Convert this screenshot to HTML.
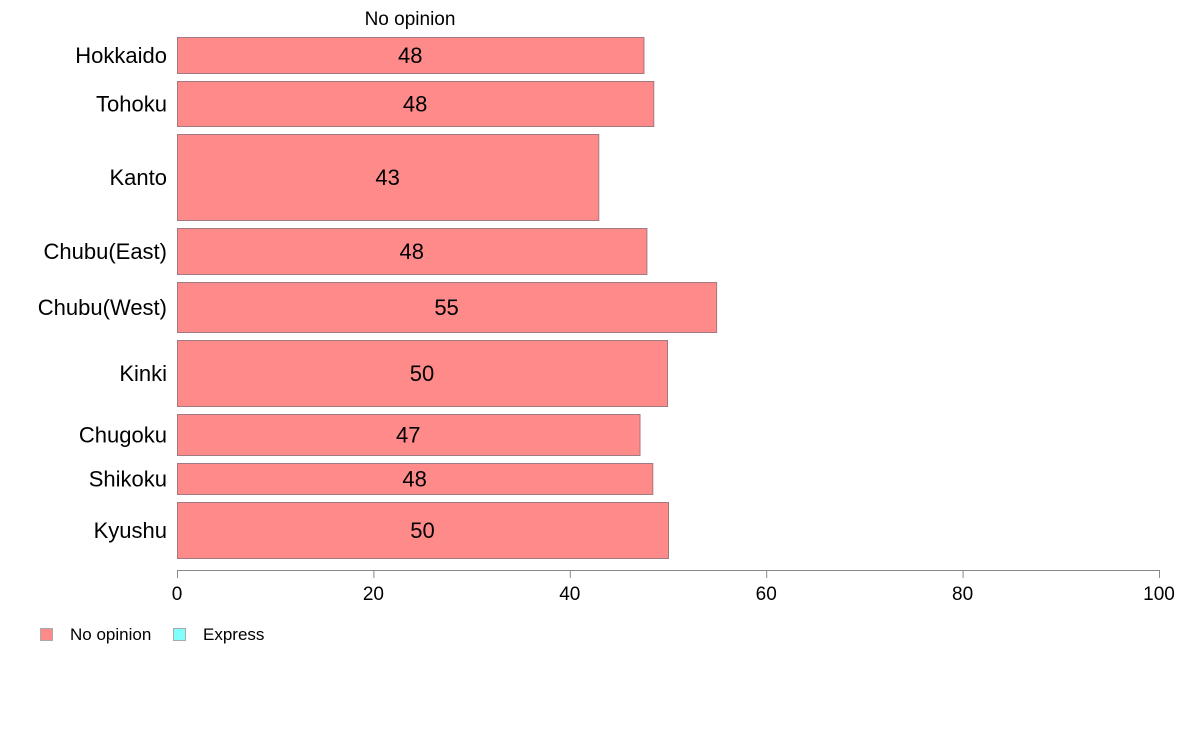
<!DOCTYPE html>
<html><head><meta charset="utf-8"><style>
body{margin:0;background:#fff;font-family:"Liberation Sans",sans-serif}
svg{display:block}
</style></head><body>
<svg id="chart" width="1188" height="736" xmlns="http://www.w3.org/2000/svg" font-family="Liberation Sans, sans-serif">
<text x="410" y="25" font-size="19" text-anchor="middle">No opinion</text>
<g id="bars"></g>
<g id="axis">
<line x1="177" y1="570.5" x2="1159" y2="570.5" stroke="#888"/>
</g>
<g>
<rect x="40.5" y="628.5" width="12" height="12" fill="#ff8a8a" stroke="#aaa"/>
<text x="70" y="640" font-size="17">No opinion</text>
<rect x="173.5" y="628.5" width="12" height="12" fill="#80ffff" stroke="#aaa"/>
<text x="203" y="640" font-size="17">Express</text>
</g>
</svg>
<script>
const categories=["Hokkaido","Tohoku","Kanto","Chubu(East)","Chubu(West)","Kinki","Chugoku","Shikoku","Kyushu"];
const values=[47.5,48.5,42.9,47.8,54.9,49.9,47.1,48.4,50.0];
const labels=["48","48","43","48","55","50","47","48","50"];
const weights=[36,45,86,46,50,66,41,31,56];
const ticks=[0,20,40,60,80,100];
const NS="http://www.w3.org/2000/svg";
const x0=177,x1=1159,yTop=37,yBottom=558,gap=8;
const xs=v=>x0+(v/100)*(x1-x0);
const totalW=weights.reduce((a,b)=>a+b,0);
const hScale=(yBottom-yTop-gap*(weights.length-1))/totalW;
const bars=document.getElementById('bars');
let yy=yTop;
categories.forEach((c,i)=>{
  const h=weights[i]*hScale;
  const r=document.createElementNS(NS,'rect');
  
  
  r.setAttribute('x',x0+0.5);r.setAttribute('y',yy+0.5);
  r.setAttribute('width',xs(values[i])-x0);r.setAttribute('height',h);
  r.setAttribute('fill','#ff8a8a');r.setAttribute('stroke','#a07a80');
  bars.appendChild(r);
  const t=document.createElementNS(NS,'text');
  
  
  t.setAttribute('x',xs(values[i]/2));t.setAttribute('y',yy+h/2+8);
  t.setAttribute('font-size','22');t.setAttribute('text-anchor','middle');
  t.textContent=labels[i];bars.appendChild(t);
  const l=document.createElementNS(NS,'text');
  
  
  l.setAttribute('x',167);l.setAttribute('y',yy+h/2+8);
  l.setAttribute('font-size','22');l.setAttribute('text-anchor','end');
  l.textContent=c;bars.appendChild(l);
  yy+=h+gap;
});
const ax=document.getElementById('axis');
ticks.forEach(v=>{
  const ln=document.createElementNS(NS,'line');
  
  
  ln.setAttribute('x1',xs(v)+0.5);ln.setAttribute('x2',xs(v)+0.5);
  ln.setAttribute('y1',570);ln.setAttribute('y2',578);ln.setAttribute('stroke','#888');
  ax.appendChild(ln);
  const t=document.createElementNS(NS,'text');
  
  
  t.setAttribute('x',xs(v));t.setAttribute('y',600);
  t.setAttribute('font-size','19');t.setAttribute('text-anchor','middle');
  t.textContent=v;ax.appendChild(t);
});
</script>
</body></html>
